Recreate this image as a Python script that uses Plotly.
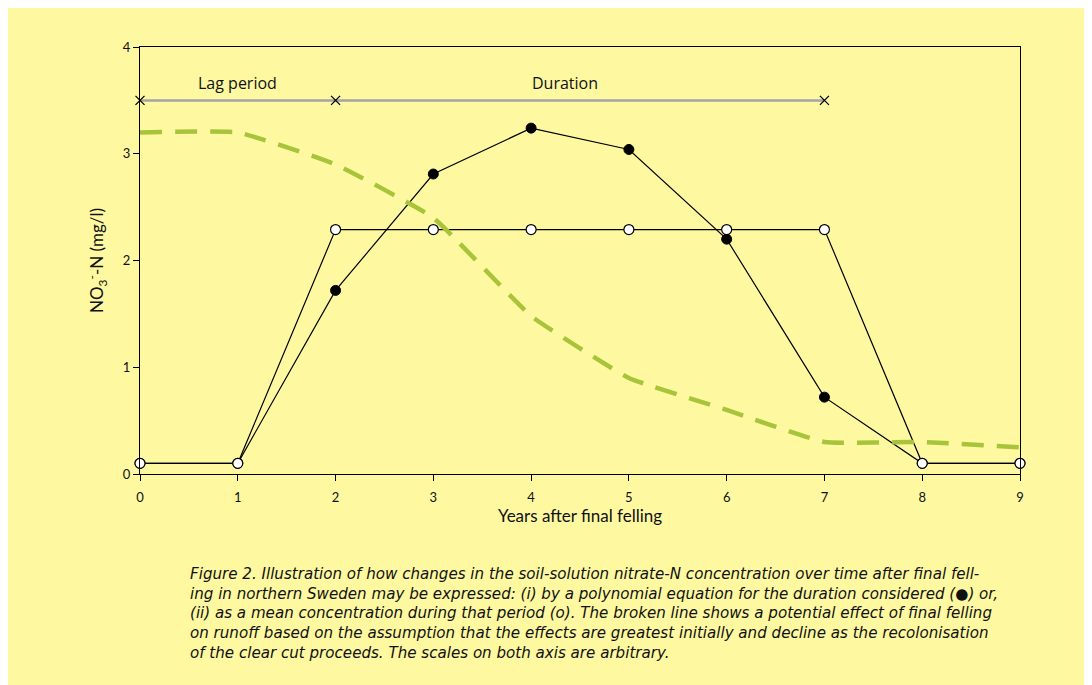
import plotly.graph_objects as go

years = [0, 1, 2, 3, 4, 5, 6, 7, 8, 9]
poly_values = [0.1, 0.1, 1.72, 2.81, 3.24, 3.04, 2.20, 0.72, 0.1, 0.1]
mean_values = [0.1, 0.1, 2.29, 2.29, 2.29, 2.29, 2.29, 2.29, 0.1, 0.1]
runoff_values = [3.2, 3.2, 2.9, 2.4, 1.48, 0.9, 0.6, 0.3, 0.3, 0.25]
period_x = [0, 2, 7]
period_y = [3.5, 3.5, 3.5]
period_labels = ["Lag period", "Duration"]
period_label_x = [1.0, 4.35]
period_label_y = [3.66, 3.66]
x_ticks = list(range(10))
y_ticks = [0, 1, 2, 3, 4]

caption_lines = [
    "Figure 2. Illustration of how changes in the soil-solution nitrate-N concentration over time after final fell-",
    "ing in northern Sweden may be expressed: (i) by a polynomial equation for the duration considered (<span style='font-style:normal'>●</span>) or,",
    "(ii) as a mean concentration during that period (o). The broken line shows a potential effect of final felling",
    "on runoff based on the assumption that the effects are greatest initially and decline as the recolonisation",
    "of the clear cut proceeds. The scales on both axis are arbitrary.",
]

BG = "#FEF9A1"
FONT = "Lato"

fig = go.Figure()

fig.add_trace(go.Scatter(
    x=period_x, y=period_y, mode="lines+markers",
    line=dict(color="#A3A3A8", width=2.5),
    marker=dict(symbol="x-thin", size=9, line=dict(color="black", width=1.3)),
    cliponaxis=False, showlegend=False, hoverinfo="skip"))

fig.add_trace(go.Scatter(
    x=years, y=poly_values, mode="lines+markers",
    line=dict(color="black", width=1.2),
    marker=dict(symbol="circle", size=10, color="black", line=dict(color="black", width=1)),
    cliponaxis=False, showlegend=False))

fig.add_trace(go.Scatter(
    x=years, y=mean_values, mode="lines+markers",
    line=dict(color="black", width=1.2),
    marker=dict(symbol="circle", size=10, color="white", line=dict(color="black", width=1.2)),
    cliponaxis=False, showlegend=False))

fig.add_trace(go.Scatter(
    x=years, y=runoff_values, mode="lines",
    line=dict(color="#A8C43A", width=4.5, dash="22px,13px", shape="spline", smoothing=0.35),
    cliponaxis=False, showlegend=False))

for lab, lx, ly in zip(period_labels, period_label_x, period_label_y):
    fig.add_annotation(x=lx, y=ly, text=lab, showarrow=False,
                       font=dict(family="Open Sans", size=16, color="#111"))

fig.add_annotation(xref="paper", yref="paper", x=0.054, y=-0.209, xanchor="left", yanchor="top",
                   align="left", showarrow=False,
                   text="<i>" + "<br>".join(caption_lines) + "</i>",
                   font=dict(family="DejaVu Sans", size=15.1, color="#111"))

fig.update_layout(
    width=1092, height=685,
    paper_bgcolor=BG, plot_bgcolor=BG,
    margin=dict(l=132, r=80, t=39, b=219),
    font=dict(family=FONT, color="#111"),
    xaxis=dict(range=[0, 9], tickvals=x_ticks, showgrid=False, zeroline=False,
               showline=True, linecolor="black", linewidth=1.2, mirror=True,
               ticks="outside", ticklen=6, tickcolor="black",
               tickfont=dict(size=13), ticklabelstandoff=5,
               title=dict(text="Years after final felling", font=dict(size=17), standoff=6)),
    yaxis=dict(range=[0, 4], tickvals=y_ticks, showgrid=False, zeroline=False,
               showline=True, linecolor="black", linewidth=1.2, mirror=True,
               ticks="outside", ticklen=6, tickcolor="black",
               tickfont=dict(size=13),
               title=dict(text="NO<sub>3</sub><sup>-</sup>-N (mg/l)", font=dict(size=17), standoff=14)),
)

fig.write_html("out.html")
